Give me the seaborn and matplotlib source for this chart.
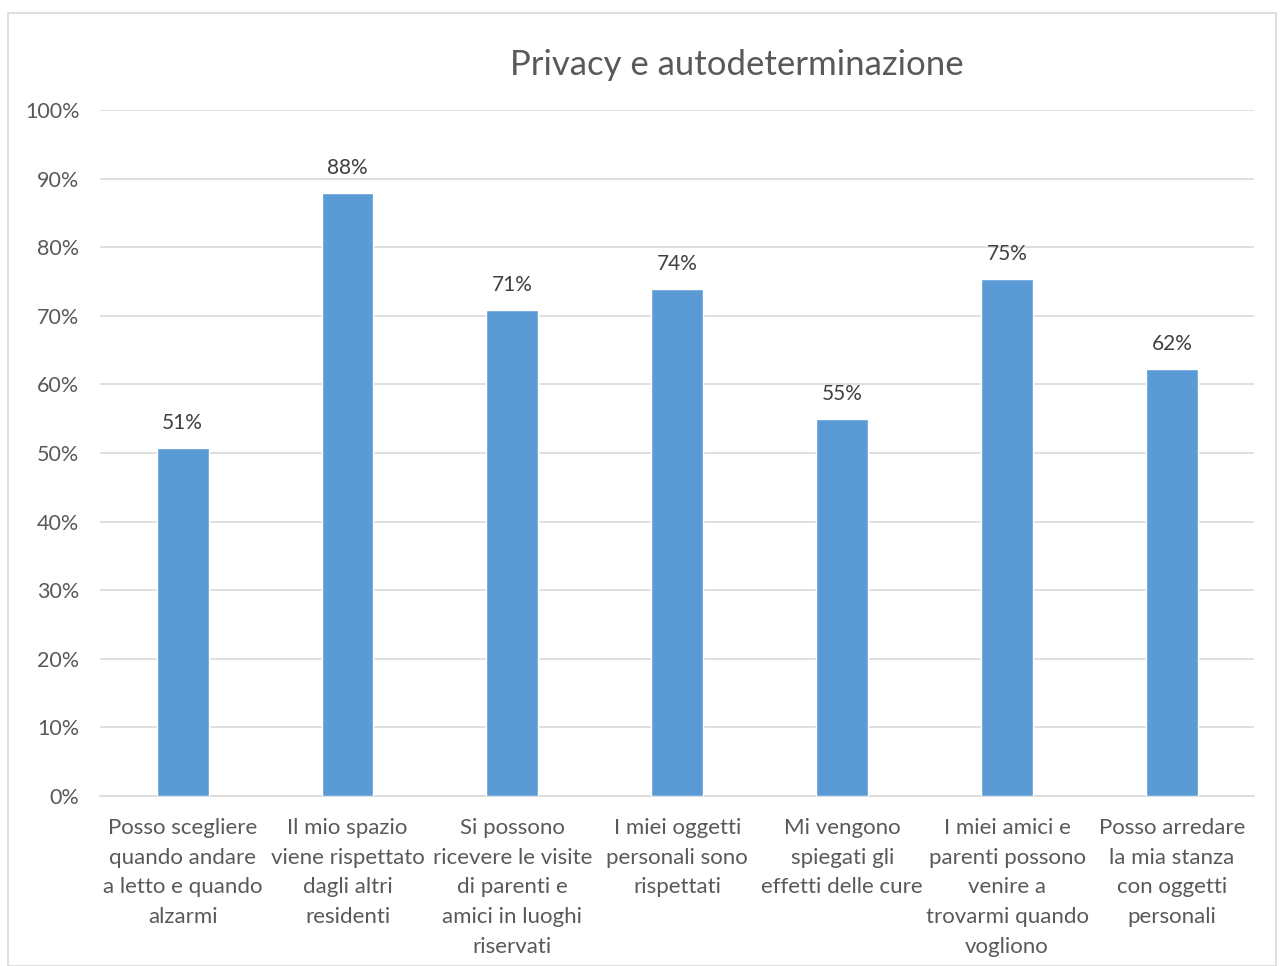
import matplotlib
matplotlib.use('Agg')
import matplotlib.pyplot as plt
import seaborn as sns
import pandas as pd

# data
categories = [
    'Posso scegliere\nquando andare\na letto e quando\nalzarmi',
    'Il mio spazio\nviene rispettato\ndagli altri\nresidenti',
    'Si possono\nricevere le visite\ndi parenti e\namici in luoghi\nriservati',
    'I miei oggetti\npersonali sono\nrispettati',
    'Mi vengono\nspiegati gli\neffetti delle cure',
    'I miei amici e\nparenti possono\nvenire a\ntrovarmi quando\nvogliono',
    'Posso arredare\nla mia stanza\ncon oggetti\npersonali',
]
values = [0.507, 0.879, 0.709, 0.739, 0.550, 0.754, 0.623]
labels = ['51%', '88%', '71%', '74%', '55%', '75%', '62%']
yticks = [0, 0.1, 0.2, 0.3, 0.4, 0.5, 0.6, 0.7, 0.8, 0.9, 1.0]

df = pd.DataFrame({'cat': categories, 'val': values})

sns.set_style('white')
plt.rcParams['font.family'] = ['Lato', 'DejaVu Sans']

fig = plt.figure(figsize=(12.84, 9.66), dpi=100)
ax = fig.add_axes([0.078, 0.176, 0.899, 0.710])

sns.barplot(data=df, x='cat', y='val', color='#5b9bd5', width=0.315,
            saturation=1, ax=ax, zorder=3)

for i, (v, lab) in enumerate(zip(values, labels)):
    ax.text(i, v + 0.022, lab, ha='center', va='bottom', fontsize=15, color='#404040')

ax.set_ylim(0, 1)
ax.set_xlim(-0.5, len(categories) - 0.5)
ax.set_yticks(yticks)
ax.set_yticklabels([f'{int(round(t * 100))}%' for t in yticks])
ax.yaxis.grid(True, color='#d9d9d9', linewidth=1.2, zorder=0)
ax.set_axisbelow(True)
for s in ['top', 'right', 'left']:
    ax.spines[s].set_visible(False)
ax.spines['bottom'].set_color('#d9d9d9')
ax.spines['bottom'].set_linewidth(1.2)
ax.tick_params(axis='y', length=0, labelsize=15.5, colors='#595959', pad=15)
ax.tick_params(axis='x', length=0, labelsize=16, colors='#595959', pad=16)
ax.set_xlabel('')
ax.set_ylabel('')
for t in ax.get_xticklabels():
    t.set_linespacing(1.6)

fig.text(0.574, 0.933, 'Privacy e autodeterminazione', ha='center', va='center',
         fontsize=25, color='#595959')

border = plt.Rectangle((0.006, 0.0), 0.988, 0.987, transform=fig.transFigure,
                       fill=False, edgecolor='#d9d9d9', linewidth=1.2)
fig.patches.append(border)

fig.savefig('out.png', dpi=100)
